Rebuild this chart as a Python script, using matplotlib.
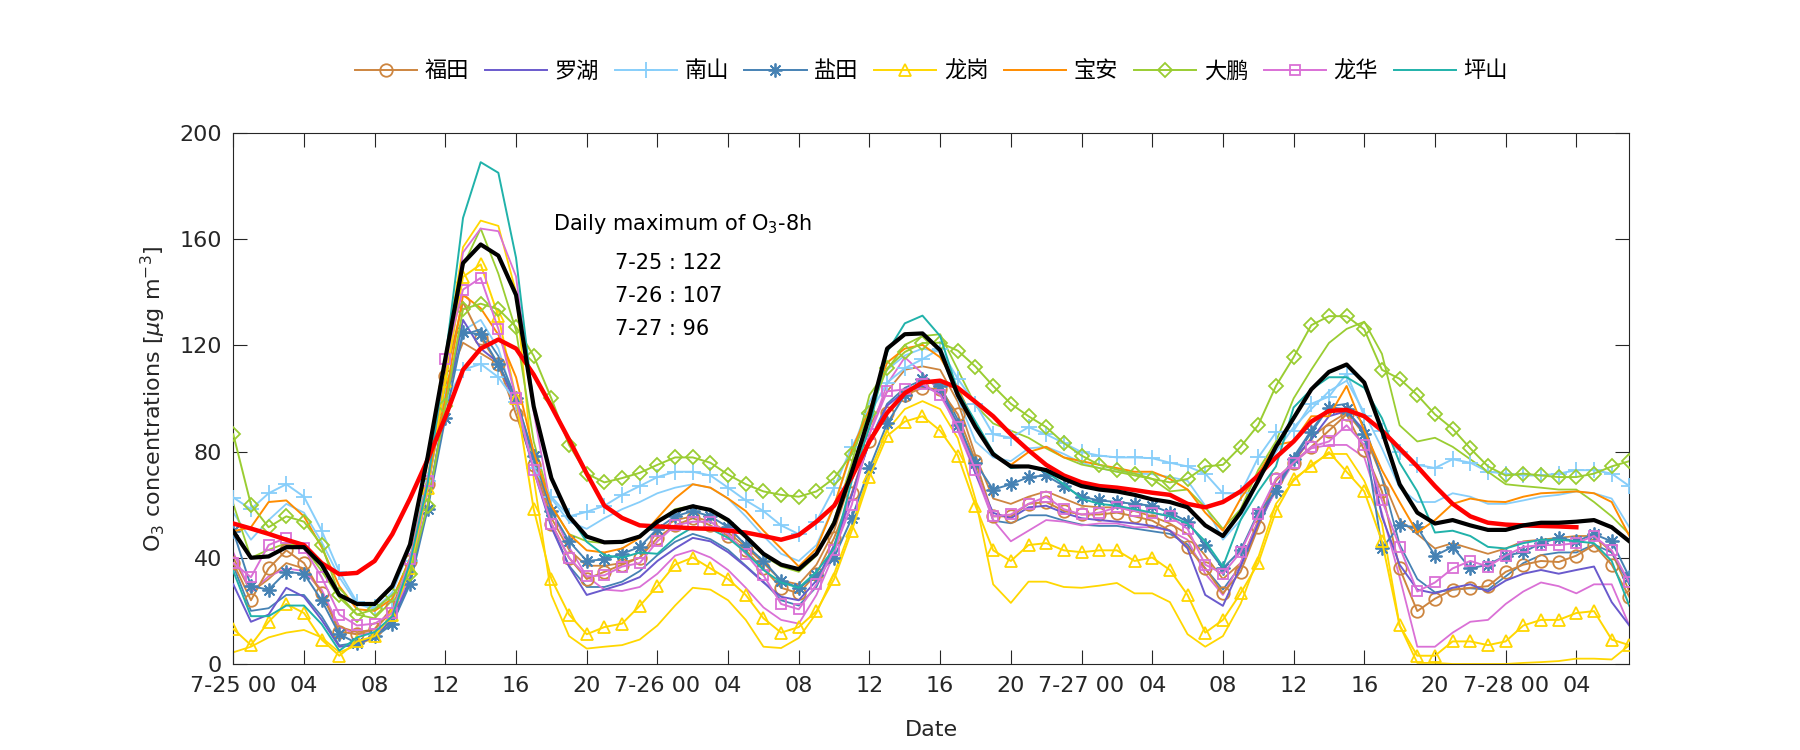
import numpy as np
import matplotlib
matplotlib.use('Agg')
import matplotlib.pyplot as plt

plt.rcParams['font.family'] = ['DejaVu Sans', 'Noto Sans CJK SC']
plt.rcParams['mathtext.fontset'] = 'dejavusans'

hours = np.arange(80)
tick_pos = list(range(0, 80, 4))
tick_labels = ['7-25 00', '04', '08', '12', '16', '20',
               '7-26 00', '04', '08', '12', '16', '20',
               '7-27 00', '04', '08', '12', '16', '20',
               '7-28 00', '04']

stations = ['福田', '罗湖', '南山', '盐田', '龙岗', '宝安', '大鹏', '龙华', '坪山']
colors = ['#CD853F', '#6A5ACD', '#87CEFA', '#4682B4', '#FFD700',
          '#FF8C00', '#9ACD32', '#DA70D6', '#20B2AA']
markers = ['o', None, '+', 'ast', '^', None, 'D', 's', None]

# station lines with legend (hourly, 7-25 00 .. 7-28 07)
futian = [38, 24, 36, 42.8, 38, 26.6, 12.2, 11.2, 13.2, 21.3, 38.8, 67.7, 108.3, 136.3, 122.9, 112.8, 94, 75, 52.9, 40, 32, 34.7, 37.4, 40] + \
         [47.5, 52.2, 54.9, 52.2, 48.2, 42.8, 36, 28.7, 26.6, 34, 47.5, 64.3, 83.8, 94.6, 101.3, 104, 103.4, 94, 76.4, 55.6, 55.6, 60.3, 61, 57.6, 56.3, 56.3, 57, 55.6, 54] + \
         [50.2, 44.1, 36, 26.6, 34.7, 51.5, 69.7, 75.8, 81.8, 87.9, 94, 80.5, 65, 36, 19.9, 24.6, 28, 28.7, 29.3, 34.7, 37.4, 38.8, 38.4, 40.8, 44.8, 37.4, 25.3]
luohu = [30, 15.9, 18.6, 28.7, 25.3, 16.6, 6.5, 7.1, 10.5, 16.6, 31.4, 59.6, 97.3, 129.6, 118.8, 113.5, 97.3, 73, 51.5, 36.7, 26, 28, 30, 32.7] + \
        [38.8, 43.5, 47.5, 46.2, 42.1, 36.7, 30.7, 25.3, 24, 31.4, 44.8, 63.7, 83.8, 97.3, 102.7, 104.7, 102, 90.6, 71.7, 56.9, 54.9, 59, 59.6, 56.9, 54.9, 54.2, 53.6, 52.9, 52] + \
        [50.2, 43.5, 26, 21.9, 36.7, 52.9, 66.4, 77.1, 84.5, 93.3, 95.3, 87.9, 55.6, 37.4, 28, 26.6, 28.7, 30, 27.3, 31.4, 34, 35.4, 34, 35.4, 36.7, 23.3, 14.5]
nanshan = [62.7, 58.3, 64.3, 67.7, 63, 50.2, 34.7, 23.3, 21.3, 24, 38.8, 69, 98.7, 110.8, 113, 108, 98.7, 73.8, 63, 55.6, 57.3, 59.6, 63.7, 67] + \
          [70.4, 72.4, 72.4, 71, 66.4, 61.6, 57.6, 52.2, 48.9, 53.6, 66.4, 81.8, 94, 106, 111.4, 114.8, 118.8, 107.4, 98, 86.5, 85.2, 89.2, 86.5, 83.2, 79.8, 78.5, 77.8, 77.8, 77.5] + \
          [75.8, 74.4, 71.7, 64.3, 64.3, 77.8, 87.2, 87.9, 98, 100.7, 109.4, 93.3, 87.9, 79.8, 75, 73.8, 77.1, 75.8, 72.4, 71.7, 71, 71, 71.7, 73, 73, 71.7, 67]
yantian = [50, 29.3, 28, 34.7, 34, 24, 11.2, 7.8, 10.5, 15.2, 30, 58.3, 92.6, 124.9, 124.2, 112.8, 100, 78.5, 57.6, 46.2, 38.8, 39.4, 41.5, 44.1] + \
          [50.9, 55.6, 57.6, 55.6, 51.5, 44.8, 38.8, 31.4, 28.7, 33.4, 40.1, 54.9, 73.8, 90.6, 101.3, 107.4, 104.7, 89.9, 75.8, 65.7, 67.7, 70.4, 71, 67, 63, 61.6, 61, 60.3, 59.6] + \
          [57, 53.6, 44.8, 36, 42.8, 57, 65, 77.1, 87.2, 96.6, 96, 86.5, 43.5, 52.2, 51.5, 40.8, 44.1, 36, 37.4, 40.8, 42.1, 45.5, 47.5, 46.2, 48.9, 46.2, 32.7]
longgang = [13.2, 7.1, 15.9, 22.6, 19.2, 9.2, 3.1, 8.5, 10.5, 18.6, 36, 66.4, 106.7, 145.8, 150.5, 131, 100, 58.3, 32, 18.6, 11.2, 13.9, 15.2, 21.9] + \
           [29.3, 37.4, 40.1, 36, 32, 26, 17.2, 11.8, 13.9, 19.9, 32, 50.2, 70.4, 85.9, 91.3, 93.3, 87.9, 78.5, 59.6, 42.8, 38.8, 44.8, 45.5, 42.8, 42.1, 42.8, 42.8, 38.8, 40.1] + \
           [35.4, 26, 11.8, 16.6, 26.6, 38, 57.6, 69.7, 74.4, 79.8, 72.4, 65, 46.2, 14.5, 3.1, 3.1, 8.5, 8.5, 7.1, 8.5, 14.5, 16.6, 16.6, 19.2, 19.9, 9.2, 7.1]
baoan = [50, 51.5, 61, 61.6, 55.6, 44, 29.3, 20.6, 20, 24.6, 39.4, 69, 100, 139, 134, 124, 108, 79.8, 59.6, 48.9, 42.8, 42, 43.5, 47.5] + \
        [54.9, 62.3, 67.7, 66.4, 62.3, 57.6, 50.2, 43.5, 36.7, 43.5, 59.6, 80.5, 96, 113.5, 118.8, 120.2, 115.5, 104, 89.9, 79, 75, 79.8, 81.8, 77.8, 76.4, 75, 73.8, 72.4, 72.4] + \
        [69.7, 65.7, 57, 50.2, 62.3, 71.7, 82.5, 83.8, 93.3, 93.3, 104.7, 87.9, 73, 61, 49.5, 54.2, 60.3, 62.3, 61.2, 61, 63, 64.3, 64.6, 65, 64.3, 61, 48.2]
dapeng = [86.5, 60, 51.5, 55.6, 53.6, 44.8, 26, 18.6, 20.6, 26, 34, 59.6, 97, 133.6, 135.7, 133.6, 127, 116, 100, 82.5, 71.7, 68.4, 70, 72] + \
         [75, 77.8, 77.8, 75.8, 71.3, 67.7, 65, 63.7, 63, 65, 70, 79, 94.6, 111.4, 117.5, 120.9, 121, 118, 112, 104.7, 98, 93.3, 89.2, 83.2, 78.5, 75, 73.2, 71.7, 69.7] + \
         [68.4, 69.7, 74.4, 75, 81.8, 90, 104.7, 115.5, 127.6, 131, 131, 126, 110.8, 107.4, 101.3, 94, 88.6, 81.2, 74.4, 71, 71.7, 71, 70.4, 70.4, 71.7, 74.4, 76.4]
longhua = [38, 32.7, 44.8, 47.5, 43.5, 32.7, 18.6, 14.5, 15.2, 19.2, 39.4, 69, 114.8, 141, 145.4, 126.2, 100, 73, 52.9, 40, 33, 33.4, 36.7, 38] + \
          [46.2, 52.2, 53.6, 53.6, 48.9, 41.5, 33.4, 22.6, 20.6, 30, 42.8, 60, 86.5, 102.7, 103.4, 105.4, 101.3, 89.2, 73, 55.6, 56.3, 60.3, 63, 58.3, 56.3, 57, 59, 57.6, 57] + \
          [55.6, 50.9, 37.4, 34, 42.1, 56.3, 69.7, 75.8, 81.8, 83.8, 89.9, 82.5, 61.6, 44.1, 27.3, 30.7, 36, 38.8, 36.7, 40.8, 44.1, 44.8, 44.8, 45.5, 48.2, 42.8, 30.7]
pingshan = [35, 18, 18, 22, 22, 15, 5, 10, 12, 18, 38, 68, 115, 168, 189, 185, 153, 97, 70, 56, 46, 41, 40, 42] + \
           [41.5, 47.5, 51.5, 50.9, 47.5, 42, 35.4, 30.7, 28.7, 34.7, 43.5, 69, 89.2, 117.5, 128.3, 131.2, 123.5, 102.7, 91.3, 79.8, 73.8, 74.4, 72.4, 67.7, 62.3, 60.3, 59.6, 58.3, 57] + \
           [55.6, 52.9, 46.2, 36.7, 54.2, 65, 74.4, 96.6, 103.4, 108, 108, 104, 92.6, 75.8, 65, 49.5, 50.2, 48.2, 44.1, 43.5, 45.5, 46.8, 46.8, 46.2, 45.5, 38.8, 21.9]

# second (unlabelled) lines in station colours
futian_b = [40, 27, 32, 38, 36, 27, 14, 12, 13, 20, 38, 65, 105, 121, 117, 113, 100, 78, 55, 43, 37, 37, 38, 40] + \
           [50, 54.2, 55.6, 53.6, 49.5, 44.1, 38, 31.4, 30, 37.4, 50.2, 70.4, 89.2, 102.7, 110.8, 112.1, 110.8, 98.7, 78.5, 62.3, 60.3, 63, 65, 62.3, 59.6, 59, 59, 57.6, 55.6] + \
           [52.9, 48.9, 40.8, 32, 38, 54.2, 69, 75.8, 85.2, 90.6, 94.6, 86.5, 70.4, 54.2, 48.9, 43.5, 45.5, 43.5, 41.5, 43.5, 46.2, 46.8, 47.5, 48.2, 48.2, 42.1, 27.3]
nanshan_b = [57, 46.8, 54.2, 60.3, 57, 46, 32.7, 22.6, 20.6, 27, 43.5, 70.4, 102.7, 125.6, 129.6, 118.8, 97.3, 75.8, 62.3, 53.6, 50.9, 54.9, 58.3, 61] + \
            [64.3, 66.4, 67.7, 66.4, 62.3, 55.6, 48.2, 41.5, 38.8, 44.8, 59.6, 79.8, 98.7, 110.8, 116.2, 118.8, 117.5, 100, 83.8, 77.8, 76.4, 81.2, 81.8, 79.1, 75.8, 73.8, 72.4, 71.7, 71.5] + \
            [70.4, 69, 59.6, 46.8, 54.2, 69, 79.8, 89.2, 96, 102.7, 106.7, 94.6, 81.2, 66.4, 61, 61, 64.3, 63, 60.3, 60.3, 61.6, 63, 63.7, 65, 64.3, 62.3, 51.5]
yantian_b = [37, 20, 21, 26, 26, 18, 7, 8, 10, 15, 32, 60, 98, 124, 126, 116, 100, 76, 52, 37, 29, 29, 31, 35] + \
            [41, 46, 49, 47, 43, 37, 31, 24, 22, 29, 44, 64, 84, 98, 104, 107, 105, 92, 74, 54, 53, 56, 56, 54, 52.5, 52, 52, 51, 50] + \
            [49, 45, 36, 28, 37, 52, 66, 78, 88, 97, 98, 90, 70, 45, 32, 27, 28, 28.5, 28, 33, 38, 41, 42, 42, 45, 42, 30]
longgang_b = [4.4, 6.5, 10, 11.8, 12.8, 10, 4.4, 7, 10, 17, 35, 70, 115, 157, 167, 165, 140, 70, 26, 10.5, 5.8, 6.5, 7.1, 9.2] + \
             [14.5, 22, 28.7, 28, 24, 16.6, 6.5, 6, 9.8, 19.2, 34, 52, 72, 88, 96, 99, 96, 85, 62, 30, 23, 31, 31, 29, 28.7, 29.5, 30.5, 26.6, 26.6] + \
             [23.3, 11.2, 6.5, 10.5, 22.6, 40.1, 60.3, 69, 75.1, 79.1, 79.1, 69, 52.9, 14.5, 0.4, 0.4, 0, 0, 0, 0, 0.4, 0.7, 1.1, 2, 2, 1.7, 7.1]
dapeng_b = [60.3, 40, 43, 45.5, 44, 35, 25, 18.6, 17.2, 24, 40, 70, 105, 150, 164, 147, 125.6, 83.8, 59.6, 48.9, 46.2, 45.5, 45.5, 48.2] + \
           [53.6, 58.3, 59.6, 57.6, 53.6, 47.5, 40.8, 36.7, 34.7, 40.8, 54.2, 75.8, 101.3, 110.8, 120.2, 123.5, 124.2, 110.8, 97.4, 90.6, 87.9, 85.2, 81.2, 77.8, 75.1, 73.8, 72.4, 71, 69.7] + \
           [65, 65.7, 59, 50.9, 58.3, 73.1, 83.8, 100, 110.8, 120.9, 126.2, 128.9, 116.8, 89.9, 83.8, 85.2, 81.8, 77.1, 72.4, 67.7, 67, 66.4, 65.7, 65.7, 61, 55.6, 48.9]
longhua_b = [42, 27, 33, 36, 35, 28, 14, 11, 12, 17, 33, 65, 110, 155, 164, 163, 146, 95, 58, 44, 33, 28, 27.5, 29] + \
            [34, 40.8, 42.8, 40.1, 35.4, 28.7, 21.3, 16.6, 15.2, 26, 41.5, 63.7, 86.5, 105.4, 115.5, 109.4, 102.7, 87.9, 71.7, 54.2, 46.2, 50.2, 54.2, 53.6, 52.2, 52.9, 52.9, 51.5, 51.5] + \
            [50.2, 46.8, 34, 26, 38.1, 53.6, 65, 75.8, 81.2, 82.5, 82.5, 77.8, 56.9, 32.7, 6.5, 6.5, 11.8, 15.9, 16.6, 22.6, 27.3, 30.7, 29.3, 26.6, 30, 30, 14.5]

# city mean (black) and 8-h running mean (red)
city_mean = [50, 40, 40.5, 44, 44, 37.4, 26, 22.6, 22.6, 29.3, 45, 78, 115, 151, 158, 153.8, 139, 97, 70, 55.6, 48, 45.8, 46, 48] + \
            [53.6, 57.6, 59.4, 58, 54.2, 48, 41.5, 37.4, 35.7, 41.5, 53, 72.4, 93.3, 118.8, 124.2, 124.5, 118.2, 101.3, 89.2, 79, 74.4, 74.4, 73, 69.7, 67, 65.7, 65, 63.7, 62] + \
            [61, 59, 52.2, 48.2, 57, 69, 81.8, 92.6, 103.4, 110, 112.8, 106, 87.9, 67.7, 57, 52.9, 54.2, 52.2, 50.5, 50.5, 52.2, 53.2, 53.2, 53.6, 54.2, 51.5, 46.2]
o3_8h = [52.9, 51, 49, 46.8, 44.8, 38, 33.8, 34.3, 38.8, 48.9, 62.3, 77, 93, 110.8, 118.8, 122.2, 118.8, 109, 97, 84.5, 71.7, 59.6, 55, 52.2] + \
        [51.8, 51.5, 51.1, 50.9, 50.2, 49.5, 48.2, 46.8, 48.6, 53.6, 59.6, 70.4, 83.8, 94.6, 102, 106, 106.7, 104, 98.7, 93.3, 86.5, 80.5, 75, 71, 68.4, 67, 66.4, 65.5, 64.5] + \
        [63.7, 60.3, 59, 61, 65, 71, 77.8, 83.8, 91.3, 95.3, 95.7, 93.3, 87.9, 81.2, 74.4, 67, 60.3, 55.6, 53.2, 52.5, 52.2, 52, 51.8, 51.5, np.nan, np.nan, np.nan]

daily_max_days = ['7-25', '7-26', '7-27']
daily_max_vals = [122, 107, 96]

main_series = [futian, luohu, nanshan, yantian, longgang, baoan, dapeng, longhua, pingshan]
second_series = [(futian_b, 0), (nanshan_b, 2), (yantian_b, 3), (longgang_b, 4),
                 (dapeng_b, 6), (longhua_b, 7)]

fig = plt.figure(figsize=(18, 7.5), dpi=100)
ax = fig.add_axes([0.1296, 0.1147, 0.7756, 0.708])

for s, ci in second_series:
    ax.plot(hours, s, color=colors[ci], lw=1.3, zorder=2)

marker_map = {'o': ('o', 9), '+': ('+', 11), 'ast': ((8, 2, 0), 10),
              '^': ('^', 9), 'D': ('D', 7), 's': ('s', 6.5)}
for name, s, c, m in zip(stations, main_series, colors, markers):
    if m is None:
        ax.plot(hours, s, color=c, lw=1.4, zorder=3, label=name)
    else:
        mk, ms = marker_map[m]
        ax.plot(hours, s, color=c, lw=1.4, marker=mk, ms=ms,
                mfc='none', mec=c, mew=1.3, zorder=3, label=name)

ax.plot(hours, city_mean, color='black', lw=3.0, zorder=5)
ax.plot(hours, o3_8h, color='#FF0000', lw=3.2, zorder=4)

ax.set_xlim(0, 79)
ax.set_ylim(0, 200)
ax.set_xticks(tick_pos)
ax.set_xticklabels(tick_labels)
ax.set_yticks(np.arange(0, 201, 40))
ax.tick_params(direction='in', top=True, right=True, length=10, width=0.8,
               labelsize=16, colors='#262626')
ax.tick_params(axis='x', pad=9)
ax.tick_params(axis='y', pad=8)
for sp in ax.spines.values():
    sp.set_color('#262626')
    sp.set_linewidth(0.8)

ax.set_xlabel('Date', fontsize=16, color='#262626', labelpad=17)
ax.set_ylabel(r'O$_3$ concentrations [$\mu$g m$^{-3}$]', fontsize=16,
              color='#262626', labelpad=8)

ax.text(18.1, 165.7, r'Daily maximum of O$_3$-8h', fontsize=15, va='center', ha='left')
for i, (d, v) in enumerate(zip(daily_max_days, daily_max_vals)):
    ax.text(21.6, 151 - 12.4 * i, f'{d} : {v}', fontsize=15, va='center', ha='left')

leg = ax.legend(loc='center', bbox_to_anchor=(0.5, 1.117), ncol=9, frameon=False,
                fontsize=16, handlelength=2.8, handletextpad=0.34, columnspacing=0.7)

fig.savefig('out.png', dpi=100)
